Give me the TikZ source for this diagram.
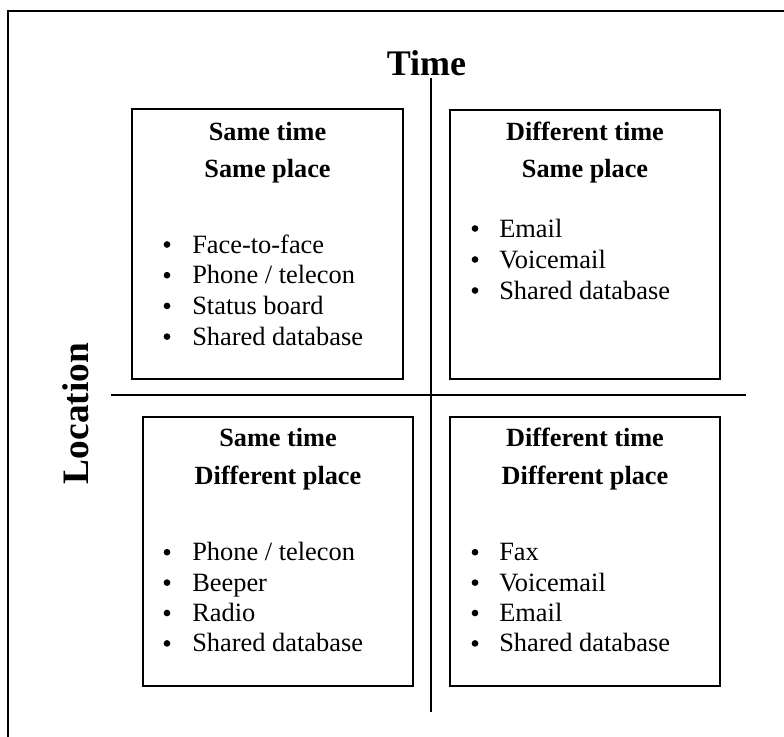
\documentclass[tikz,border=0pt]{standalone}
\usepackage{fontspec}
\setmainfont{Liberation Serif}
\begin{document}
\begin{tikzpicture}[x=0.75pt,y=-0.75pt,
  box/.style={draw,line width=1.1pt,inner sep=0pt},
  head/.style={font=\fontsize{19.7}{23}\selectfont\bfseries,anchor=base,inner sep=0pt},
  item/.style={font=\fontsize{19.8}{23}\selectfont,anchor=base west,inner sep=0pt},
  bul/.style={circle,fill,inner sep=0pt,minimum size=5pt},
  axis/.style={line width=1.1pt},
  axlabel/.style={font=\fontsize{27}{32}\selectfont\bfseries,inner sep=0pt,anchor=base}]
\useasboundingbox (0,0) rectangle (784,736);
\begin{scope}
\clip (0,0) rectangle (784,736);
\draw[line width=0.8pt] (8,11) rectangle (800,760);
\end{scope}
% axes
\coordinate (hl) at (111,395);
\coordinate (hr) at (746,395);
\coordinate (vt) at (431,78);
\coordinate (vb) at (431,712);
\draw[axis] (hl) -- (hr);
\draw[axis] (vt) -- (vb);
\node[axlabel] (time) at (426.5,75) {Time};
\node[font=\fontsize{28}{32}\selectfont\bfseries,inner sep=0pt,anchor=base,rotate=90] (loc) at (88,413.5) {Location};
% boxes
\draw[box] (132,109) rectangle (403,379);
\draw[box] (450,110) rectangle (720,379);
\draw[box] (143,417) rectangle (413,686);
\draw[box] (450,417) rectangle (720,686);
% top-left
\node[head] (tlh1) at (267.5,140) {Same time};
\node[head] (tlh2) at (267.5,177) {Same place};
\foreach \t [count=\i] in {Face-to-face,Phone / telecon,Status board,Shared database}{
  \pgfmathsetmacro{\yy}{253+(\i-1)*30.7}
  \node[bul] (tlb\i) at (167,\yy-8.5) {};
  \node[item] (tli\i) at (192,\yy) {\t};
}
% top-right
\node[head] (trh1) at (585,140) {Different time};
\node[head] (trh2) at (585,177) {Same place};
\foreach \t [count=\i] in {Email,Voicemail,Shared database}{
  \pgfmathsetmacro{\yy}{237+(\i-1)*31}
  \node[bul] (trb\i) at (475,\yy-8.5) {};
  \node[item] (tri\i) at (499,\yy) {\t};
}
% bottom-left
\node[head] (blh1) at (278,446.5) {Same time};
\node[head] (blh2) at (278,484) {Different place};
\foreach \t [count=\i] in {Phone / telecon,Beeper,Radio,Shared database}{
  \pgfmathsetmacro{\yy}{560.7+(\i-1)*30.4}
  \node[bul] (blb\i) at (167,\yy-8.5) {};
  \node[item] (bli\i) at (192,\yy) {\t};
}
% bottom-right
\node[head] (brh1) at (585,446) {Different time};
\node[head] (brh2) at (585,484) {Different place};
\foreach \t [count=\i] in {Fax,Voicemail,Email,Shared database}{
  \pgfmathsetmacro{\yy}{560.7+(\i-1)*30.4}
  \node[bul] (brb\i) at (475,\yy-8.5) {};
  \node[item] (bri\i) at (499,\yy) {\t};
}
\end{tikzpicture}
\end{document}
